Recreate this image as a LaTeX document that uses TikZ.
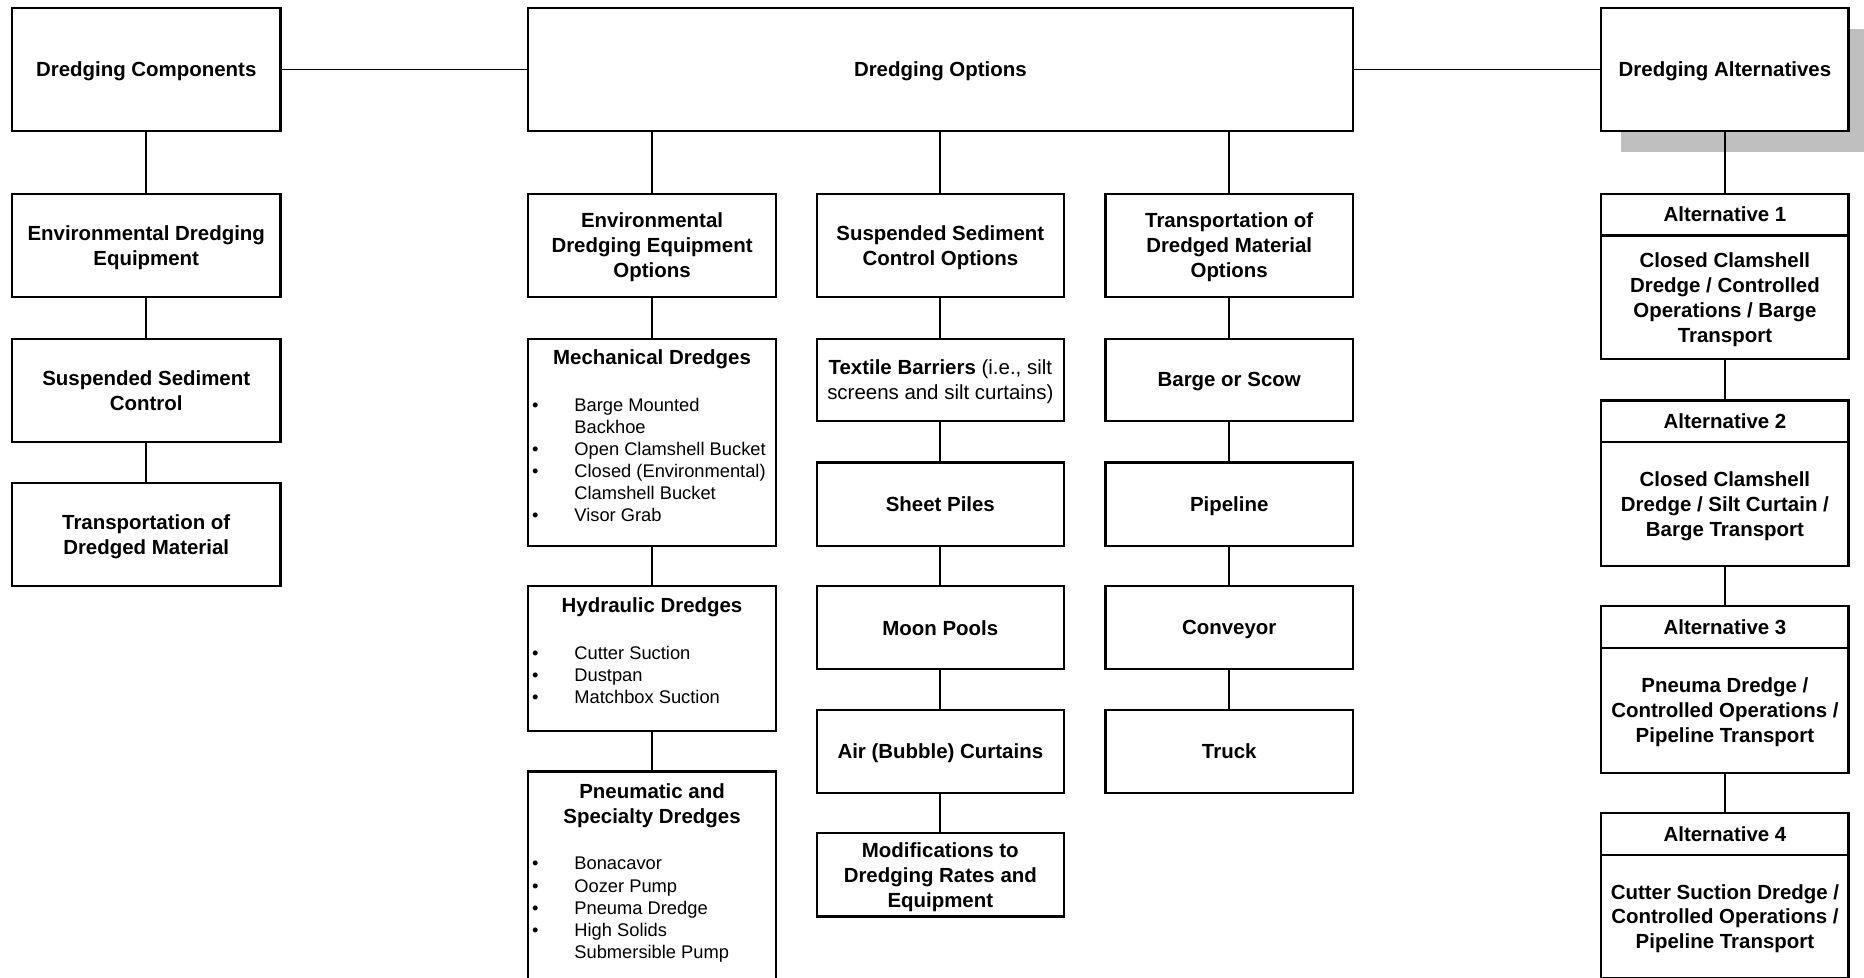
\documentclass[tikz,border=0pt]{standalone}
\usepackage{fontspec}
\setmainfont{Liberation Sans}
\usetikzlibrary{shadows}
% heading text, plain text and bullet-list text
\newcommand\hdfont{\fontsize{17.2}{21}\selectfont\bfseries}
\newcommand\txfont{\fontsize{17.2}{21}\selectfont\mdseries}
\newcommand\lsfont{\fontsize{15.4}{18.6}\selectfont\mdseries}
% bullet item and its continuation line
\newcommand\itm[1]{\makebox[35.5pt][l]{\textbullet}#1}
\newcommand\itc[1]{\hspace*{35.5pt}#1}

\begin{document}
\begin{tikzpicture}[x=1pt,y=-1pt,
  box/.style={draw, line width=1.9pt, fill=white, inner sep=0pt, outer sep=0pt, align=center, text depth=0pt, font=\hdfont},
  wide/.style={minimum width=226pt},
  std/.style={minimum width=208pt},
  colB/.style={minimum width=209pt},
  conn/.style={line width=1.5pt},
  listhead/.style={anchor=north, inner sep=0pt, align=center, font=\hdfont},
  listbody/.style={anchor=north west, inner sep=0pt, align=left, font=\lsfont},
  altshadow/.style={drop shadow={shadow xshift=16.5pt, shadow yshift=-17.5pt, fill=black!25, opacity=1}}
]
\path[use as bounding box, clip] (0,0) rectangle (1568,822);
\fill[white] (0,0) rectangle (1568,822);

% top row
\node[box, wide, minimum height=103pt] (comp) at (123,58.5) {Dredging Components};
\node[box, minimum width=694pt, minimum height=103pt] (opts) at (791,58.5) {Dredging Options};
\node[box, std, minimum height=103pt, altshadow] (alts) at (1451,58.5) {Dredging Alternatives};

% components column
\node[box, wide, minimum height=87pt] (c1a) at (123,206.5) {Environmental Dredging\\Equipment};
\node[box, wide, minimum height=87pt] (c1b) at (123,328.5) {Suspended Sediment\\Control};
\node[box, wide, minimum height=87pt] (c1c) at (123,449.5) {Transportation of\\Dredged Material};

% equipment options column
\node[box, colB, minimum height=87pt] (c2a) at (548.5,206.5) {Environmental\\Dredging Equipment\\Options};
\node[box, colB, minimum height=174pt] (mech) at (548.5,372) {};
\node[box, colB, minimum height=122pt] (hyd) at (548.5,554) {};
\node[box, colB, minimum height=186pt] (pneu) at (548.5,742) {};

\node[listhead] (mechT) at ([yshift=-8.8pt]mech.north) {Mechanical Dredges};
\node[listbody] (mechL) at ([xshift=3.5pt,yshift=-49.5pt]mech.north west)
  {\itm{Barge Mounted}\\\itc{Backhoe}\\\itm{Open Clamshell Bucket}\\\itm{Closed (Environmental)}\\\itc{Clamshell Bucket}\\\itm{Visor Grab}};

\node[listhead] (hydT) at ([yshift=-9.8pt]hyd.north) {Hydraulic Dredges};
\node[listbody] (hydL) at ([xshift=3.5pt,yshift=-50.5pt]hyd.north west)
  {\itm{Cutter Suction}\\\itm{Dustpan}\\\itm{Matchbox Suction}};

\node[listhead] (pneuT) at ([yshift=-9.8pt]pneu.north) {Pneumatic and\\Specialty Dredges};
\node[listbody] (pneuL) at ([xshift=3.5pt,yshift=-72pt]pneu.north west)
  {\itm{Bonacavor}\\\itm{Oozer Pump}\\\itm{Pneuma Dredge}\\\itm{High Solids}\\\itc{Submersible Pump}};

% sediment control options column
\node[box, std, minimum height=87pt] (c3a) at (791,206.5) {Suspended Sediment\\Control Options};
\node[box, std, minimum height=69pt] (tex) at (791,319.5) {Textile Barriers \txfont(i.e., silt\\\txfont screens and silt curtains)};
\node[box, std, minimum height=70pt] (sheet) at (791,424) {Sheet Piles};
\node[box, std, minimum height=70pt] (moon) at (791,528) {Moon Pools};
\node[box, std, minimum height=70pt] (air) at (791,632) {Air (Bubble) Curtains};
\node[box, std, minimum height=70pt] (mods) at (791,736) {Modifications to\\Dredging Rates and\\Equipment};

% transportation options column
\node[box, std, minimum height=87pt] (c4a) at (1034,206.5) {Transportation of\\Dredged Material\\Options};
\node[box, std, minimum height=69pt] (barge) at (1034,319.5) {Barge or Scow};
\node[box, std, minimum height=70pt] (pipe) at (1034,424) {Pipeline};
\node[box, std, minimum height=70pt] (conv) at (1034,528) {Conveyor};
\node[box, std, minimum height=70pt] (truck) at (1034,632) {Truck};

% alternatives column
\node[box, std, minimum height=35pt] (a1h) at (1451,180.5) {Alternative 1};
\node[box, std, minimum height=104pt, anchor=north] (a1b) at (a1h.south) {Closed Clamshell\\Dredge / Controlled\\Operations / Barge\\Transport};
\node[box, std, minimum height=35pt] (a2h) at (1451,354.5) {Alternative 2};
\node[box, std, minimum height=104pt, anchor=north] (a2b) at (a2h.south) {Closed Clamshell\\Dredge / Silt Curtain /\\Barge Transport};
\node[box, std, minimum height=35pt] (a3h) at (1451,527.5) {Alternative 3};
\node[box, std, minimum height=105pt, anchor=north] (a3b) at (a3h.south) {Pneuma Dredge /\\Controlled Operations /\\Pipeline Transport};
\node[box, std, minimum height=35pt] (a4h) at (1451,701.5) {Alternative 4};
\node[box, std, minimum height=104pt, anchor=north] (a4b) at (a4h.south) {Cutter Suction Dredge /\\Controlled Operations /\\Pipeline Transport};

% connectors
\draw[conn] (comp) -- (opts) (opts) -- (alts);
\draw[conn] (comp) -- (c1a) (c1a) -- (c1b) (c1b) -- (c1c);
\draw[conn] (opts.south -| c2a.north) -- (c2a.north);
\draw[conn] (opts) -- (c3a);
\draw[conn] (opts.south -| c4a.north) -- (c4a.north);
\draw[conn] (c2a) -- (mech) (mech) -- (hyd) (hyd) -- (pneu);
\draw[conn] (c3a) -- (tex) (tex) -- (sheet) (sheet) -- (moon) (moon) -- (air) (air) -- (mods);
\draw[conn] (c4a) -- (barge) (barge) -- (pipe) (pipe) -- (conv) (conv) -- (truck);
\draw[conn] (alts) -- (a1h) (a1b) -- (a2h) (a2b) -- (a3h) (a3b) -- (a4h);
\end{tikzpicture}
\end{document}
